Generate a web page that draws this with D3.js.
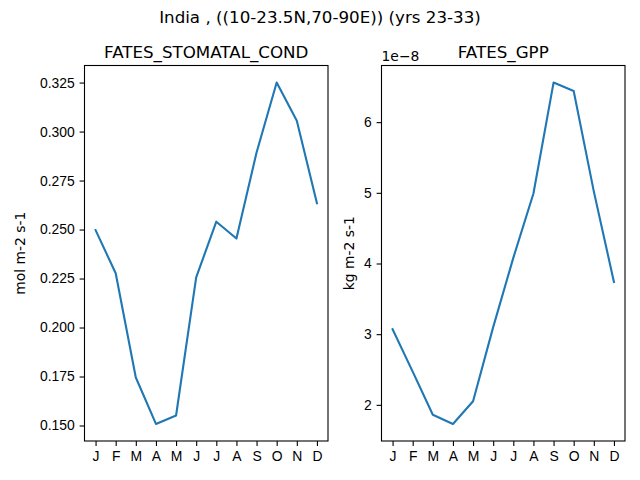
<!DOCTYPE html>
<html>
<head>
<meta charset="utf-8">
<script src="https://cdn.jsdelivr.net/npm/d3@7"></script>
<style>
    body { margin: 0; background: #fff; }
    svg { font-family: 'DejaVu Sans', sans-serif; }
    .tick text { font-size: 13.9px; fill: #000; }
    .tick line { stroke: #000; stroke-width: 1.1; }
    .domain { display: none; }
</style>
</head>
<body>
<script>
// ======================= DATA ================================
const months = ['J', 'F', 'M', 'A', 'M', 'J', 'J', 'A', 'S', 'O', 'N', 'D']
const stomatalCond = [0.2497, 0.2277, 0.1745, 0.1508, 0.1551, 0.2256, 0.2540, 0.2454, 0.2893, 0.3250, 0.3055, 0.2634]
const gpp = [3.07e-8, 2.47e-8, 1.86e-8, 1.73e-8, 2.05e-8, 3.10e-8, 4.08e-8, 4.99e-8, 6.56e-8, 6.44e-8, 5.02e-8, 3.74e-8]
const condTicks = [0.150, 0.175, 0.200, 0.225, 0.250, 0.275, 0.300, 0.325]
const gppTicks = [2e-8, 3e-8, 4e-8, 5e-8, 6e-8]

const width = 640,
    height = 480

const svg = d3.select('body').append('svg')
    .attr('width', width)
    .attr('height', height)

svg.append('text')
    .attr('x', 320)
    .attr('y', 23)
    .attr('text-anchor', 'middle')
    .attr('font-size', '16.7px')
    .text('India , ((10-23.5N,70-90E)) (yrs 23-33)')

// =========================================
// =============Panel=======================
// =========================================
function makePanel(opts) {
    const g = svg.append('g')
        .attr('transform', 'translate(' + opts.left + ',' + opts.top + ')')
    const w = opts.w,
        h = opts.h

    const x = d3.scaleLinear()
        .domain([-0.55, months.length - 1 + 0.55])
        .range([0, w])

    const lo = d3.min(opts.values),
        hi = d3.max(opts.values)
    const pad = (hi - lo) * 0.05
    const y = d3.scaleLinear()
        .domain([lo - pad, hi + pad])
        .range([h, 0])

    g.append('g')
        .attr('transform', 'translate(0,' + h + ')')
        .call(d3.axisBottom(x)
            .tickValues(d3.range(months.length))
            .tickFormat((d) => months[d])
            .tickSize(4.9)
            .tickPadding(4.9))

    g.append('g')
        .call(d3.axisLeft(y)
            .tickValues(opts.ticks)
            .tickFormat(opts.fmt)
            .tickSize(4.9)
            .tickPadding(4.9))

    const line = d3.line()
        .x((d, i) => x(i))
        .y((d) => y(d))

    g.append('path')
        .datum(opts.values)
        .attr('d', line)
        .attr('fill', 'none')
        .attr('stroke', '#1f77b4')
        .attr('stroke-width', 2.1)
        .attr('stroke-linejoin', 'round')
        .attr('stroke-linecap', 'square')

    g.append('rect')
        .attr('width', w)
        .attr('height', h)
        .attr('fill', 'none')
        .attr('stroke', '#000')
        .attr('stroke-width', 1.1)

    g.append('text')
        .attr('x', w / 2)
        .attr('y', -8)
        .attr('text-anchor', 'middle')
        .attr('font-size', '16.7px')
        .text(opts.title)

    g.append('text')
        .attr('transform', 'translate(' + opts.labelX + ',' + (h / 2) + ') rotate(-90)')
        .attr('text-anchor', 'middle')
        .attr('font-size', '13.9px')
        .text(opts.ylabel)

    if (opts.offset) {
        g.append('text')
            .attr('x', 0)
            .attr('y', -5)
            .attr('font-size', '13.9px')
            .text(opts.offset)
    }
}

makePanel({
    left: 84.5, top: 65.5, w: 243.5, h: 375.5,
    values: stomatalCond,
    ticks: condTicks,
    fmt: d3.format('.3f'),
    title: 'FATES_STOMATAL_COND',
    ylabel: 'mol m-2 s-1',
    labelX: -60
})

makePanel({
    left: 381.5, top: 65.5, w: 243.5, h: 375.5,
    values: gpp,
    ticks: gppTicks,
    fmt: (d) => Math.round(d * 1e8),
    title: 'FATES_GPP',
    ylabel: 'kg m-2 s-1',
    labelX: -28,
    offset: '1e\u22128'
})
</script>
</body>
</html>
